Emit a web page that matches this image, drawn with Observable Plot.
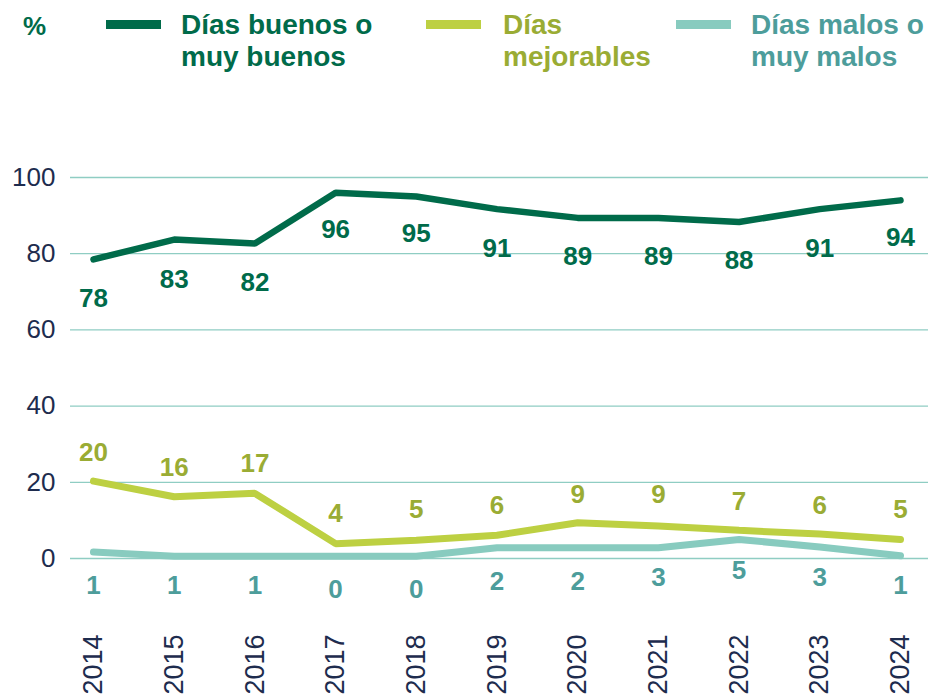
<!DOCTYPE html>
<html>
<head>
<meta charset="utf-8">
<script src="https://cdn.jsdelivr.net/npm/d3@7"></script>
<script src="https://cdn.jsdelivr.net/npm/@observablehq/plot@0.6"></script>
<style>
  body { margin: 0; background: #fff; font-family: "Liberation Sans", Arial, sans-serif; }
  #wrap { position: relative; width: 928px; height: 695px; overflow: hidden; }
  #legend { position: absolute; left: 0; top: 0; width: 928px; height: 110px; }
  .lg { position: absolute; font-weight: bold; font-size: 28px; line-height: 32px; white-space: nowrap; }
  .sw { position: absolute; height: 9px; width: 55px; }
  #chart { position: absolute; left: 0; top: 110px; }
</style>
</head>
<body>
<div id="wrap">
  <div id="legend"></div>
  <div id="chart"></div>
</div>
<script>
const years = [2014, 2015, 2016, 2017, 2018, 2019, 2020, 2021, 2022, 2023, 2024];
const buenosLine = [78.5, 83.7, 82.7, 96, 95, 91.7, 89.4, 89.4, 88.3, 91.7, 94];
const buenosLabels = [78, 83, 82, 96, 95, 91, 89, 89, 88, 91, 94];
const mejorablesLine = [20.3, 16.2, 17.1, 3.9, 4.8, 6.1, 9.4, 8.5, 7.4, 6.4, 5.0];
const mejorablesLabels = [20, 16, 17, 4, 5, 6, 9, 9, 7, 6, 5];
const malosLine = [1.7, 0.6, 0.6, 0.6, 0.6, 2.8, 2.8, 2.8, 5.0, 3.0, 0.7];
const malosLabels = [1, 1, 1, 0, 0, 2, 2, 3, 5, 3, 1];
const yTicks = [0, 20, 40, 60, 80, 100];
const seriesNames = [["Días buenos o", "muy buenos"], ["Días", "mejorables"], ["Días malos o", "muy malos"]];
const unitLabel = "%";

const lineColors = ["#006b4a", "#bdd042", "#88cbbf"];
const textColors = ["#006b4a", "#9aac34", "#4d9d9b"];

// Legend (HTML)
const legend = document.getElementById("legend");
function addEl(cls, style, text) {
  const d = document.createElement("div");
  d.className = cls;
  Object.assign(d.style, style);
  if (text != null) d.innerHTML = text;
  legend.appendChild(d);
}
addEl("lg", {left: "23px", top: "10px", color: textColors[0], fontSize: "26px"}, unitLabel);
const legendPos = [{sw: 106, tx: 181}, {sw: 426, tx: 503}, {sw: 676, tx: 751}];
legendPos.forEach((p, i) => {
  addEl("sw", {left: p.sw + "px", top: "20px", background: lineColors[i]});
  addEl("lg", {left: p.tx + "px", top: "9px", color: textColors[i]}, seriesNames[i].join("<br>"));
});

const buenos = years.map((y, i) => ({year: y, v: buenosLine[i], label: buenosLabels[i]}));
const mejorables = years.map((y, i) => ({year: y, v: mejorablesLine[i], label: mejorablesLabels[i]}));
const malos = years.map((y, i) => ({year: y, v: malosLine[i], label: malosLabels[i]}));

const font = "Liberation Sans, Arial, sans-serif";

const chart = Plot.plot({
  width: 928,
  height: 585,
  marginTop: 67,
  marginBottom: 137,
  marginLeft: 70,
  marginRight: 0,
  style: {fontFamily: font, background: "white", overflow: "visible"},
  x: {domain: [2014, 2024], range: [93, 900], axis: null},
  y: {domain: [0, 100], axis: null},
  marks: [
    Plot.ruleY(yTicks, {stroke: "#8fcdc3", strokeWidth: 1.3}),
    Plot.text(yTicks, {x: 2014, y: d => d, text: d => String(d), dx: -38, textAnchor: "end",
      fontSize: 26, fill: "#1e2c4e"}),
    Plot.text(years, {x: d => d, y: 0, text: d => String(d), rotate: -90, textAnchor: "end",
      dy: 76, fontSize: 27, fill: "#1e2c4e"}),
    Plot.line(malos, {x: "year", y: "v", stroke: lineColors[2], strokeWidth: 7, strokeLinejoin: "miter"}),
    Plot.line(mejorables, {x: "year", y: "v", stroke: lineColors[1], strokeWidth: 7, strokeLinejoin: "miter"}),
    Plot.line(buenos, {x: "year", y: "v", stroke: lineColors[0], strokeWidth: 6.5, strokeLinejoin: "miter"}),
    Plot.text(buenos, {x: "year", y: "label", text: d => String(d.label), dy: 37,
      fill: textColors[0], fontSize: 26, fontWeight: "bold"}),
    Plot.text(mejorables, {x: "year", y: "label", text: d => String(d.label), dy: -30,
      fill: textColors[1], fontSize: 26, fontWeight: "bold"}),
    Plot.text(malos, {x: "year", y: "label", text: d => String(d.label), dy: 31,
      fill: textColors[2], fontSize: 26, fontWeight: "bold"})
  ]
});
document.getElementById("chart").appendChild(chart);
</script>
</body>
</html>
